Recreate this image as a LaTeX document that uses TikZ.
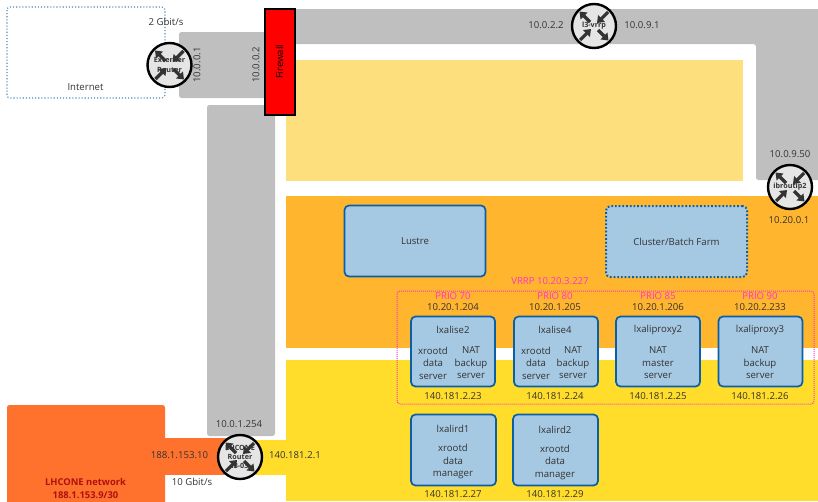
\documentclass[tikz,border=0pt]{standalone}
\usepackage{fontspec}
\setmainfont{Open Sans}
\usetikzlibrary{arrows.meta}
\definecolor{ink}{HTML}{333333}
\definecolor{greyz}{HTML}{BFBFBF}
\definecolor{ltyel}{HTML}{FDDF7E}
\definecolor{orz}{HTML}{FFB52E}
\definecolor{yelz}{HTML}{FFDD2A}
\definecolor{redor}{HTML}{FF722E}
\definecolor{srvfill}{HTML}{A5C8E3}
\definecolor{srvline}{HTML}{0B5FA5}
\definecolor{mag}{HTML}{FF33CC}
\definecolor{dred}{HTML}{B01010}
\tikzset{
 lbl/.style={font=\fontsize{9.6}{12.5}\selectfont,text=ink,inner sep=0pt,align=center},
 prio/.style={font=\fontsize{9.6}{12.5}\selectfont,text=mag,inner sep=0pt,align=center},
 area/.style={rounded corners=2.5pt},
 srv/.style={draw=srvline,line width=1.7pt,fill=srvfill,rounded corners=4.5pt},
 rtr/.style={circle,draw=black,line width=2.4pt,fill=black!10,minimum size=44pt,inner sep=0pt},
 rarrow/.style={draw=ink,line width=3.2pt,-{Triangle[length=6.5pt,width=9.5pt]}},
 rtxt/.style={font=\bfseries\fontsize{7.2}{8.6}\selectfont,text=ink,inner sep=0pt,align=center},
}
\newcommand{\rtrsym}[4]{%
 \node[rtr] (#1) at (#2,#3) {};
 \draw[rarrow] (#1.center) ++(-4,-4) -- ++(-10.5,-10.5);
 \draw[rarrow] (#1.center) ++(14,-14) -- ++(-11,11);
 \draw[rarrow] (#1.center) ++(-14,14) -- ++(11,-11);
 \draw[rarrow] (#1.center) ++(4,4) -- ++(10.5,10.5);
 \node[rtxt] (#1t) at (#1.center) {#4};
}
% name, left, top, width, height
\newcommand{\srvbox}[5]{%
 \path[srv] (#2,#3) rectangle ++(#4,#5);
 \coordinate (#1) at (#2+#4/2,#3);
}
\begin{document}
\begin{tikzpicture}[x=1pt,y=-1pt]
\useasboundingbox (0,0) rectangle (818,501);
% backgrounds
\fill[area,greyz] (179,32) rectangle (270,98);
\fill[greyz] (290,9) -- (818,9) -- (818,180) -- (760,180) [rounded corners=2.5pt] -- (756,180) -- (756,44) [sharp corners] -- (290,44) -- cycle;
\fill[area,greyz] (207,105) rectangle (275,436);
\fill[area,ltyel] (286,60) [sharp corners] rectangle (743,181);
\fill[orz] (286,196) rectangle (818,348);
\fill[yelz] (286,360) rectangle (818,501);
\fill[area,yelz] (250,440) rectangle (290,475);
\fill[area,redor] (7,405) rectangle (165,520);
\fill[redor] (160,438) rectangle (230,475);
\draw[srvline!75!white,line width=1.1pt,dotted,rounded corners=3pt] (7,7) rectangle (165,98);
% firewall
\node[draw=black,line width=2pt,fill=red,minimum width=30pt,minimum height=106pt,inner sep=0pt] (fw) at (279.5,62) {\rotatebox{90}{\fontsize{9.6}{10}\selectfont Firewall}};
% routers
\rtrsym{ext}{169.5}{65}{Externer\\[1.5pt]Router}
\rtrsym{l3}{594}{26}{l3-vrrp}
\rtrsym{ib}{790}{187}{ibroutip2}
\rtrsym{lhc}{240}{457}{LHCONE\\Router\\l3-03}
% storage
\node[srv,minimum width=141pt,minimum height=71pt,inner sep=0pt,font=\fontsize{9.6}{10}\selectfont,text=ink] (lustre) at (415,241) {Lustre};
\node[srv,dotted,line width=2pt,minimum width=141pt,minimum height=71pt,inner sep=0pt,font=\fontsize{9.6}{10}\selectfont,text=ink] (farm) at (676.5,241.5) {Cluster/Batch Farm};
% vrrp
\draw[mag,line width=1pt,densely dotted,rounded corners=3pt] (397,291) rectangle (814,404);
\node[prio] (vrrp) at (550,281) {VRRP 10.20.3.227};
% servers
\srvbox{s1}{411}{316.5}{84}{70}
\srvbox{s2}{514}{316.5}{84}{70}
\srvbox{s3}{616}{316.5}{84}{70}
\srvbox{s4}{718.5}{316.5}{84}{70}
\srvbox{s5}{411}{414.5}{85}{71}
\srvbox{s6}{513}{414.5}{85}{71}
% server labels
\node[prio] (p1) at (453,296.5) {PRIO 70};
\node[prio] (p2) at (555,296.5) {PRIO 80};
\node[prio] (p3) at (658,296.5) {PRIO 85};
\node[prio] (p4) at (760,296.5) {PRIO 90};
\node[lbl] (a1) at (453,307.5) {10.20.1.204};
\node[lbl] (a2) at (555,307.5) {10.20.1.205};
\node[lbl] (a3) at (658,307.5) {10.20.1.206};
\node[lbl] (a4) at (760,307.5) {10.20.2.233};
\node[lbl] (n1) at (453,329.5) {lxalise2};
\node[lbl] (n2) at (555,329.5) {lxalise4};
\node[lbl] (n3) at (658,329.5) {lxaliproxy2};
\node[lbl] (n4) at (760,329.5) {lxaliproxy3};
\node[lbl,anchor=north] (d1a) at (433,346.5) {xrootd\\data\\server};
\node[lbl,anchor=north] (d1b) at (471,346.5) {NAT\\backup\\server};
\node[lbl,anchor=north] (d2a) at (536,346.5) {xrootd\\data\\server};
\node[lbl,anchor=north] (d2b) at (573,346.5) {NAT\\backup\\server};
\node[lbl,anchor=north] (d3) at (658,346.5) {NAT\\master\\server};
\node[lbl,anchor=north] (d4) at (760,346.5) {NAT\\backup\\server};
\node[lbl] (b1) at (453,396.5) {140.181.2.23};
\node[lbl] (b2) at (555,396.5) {140.181.2.24};
\node[lbl] (b3) at (658,396.5) {140.181.2.25};
\node[lbl] (b4) at (760,396.5) {140.181.2.26};
\node[lbl] (n5) at (453,429) {lxalird1};
\node[lbl] (n6) at (555,430) {lxalird2};
\node[lbl,anchor=north] (d5) at (453,444) {xrootd\\data\\manager};
\node[lbl,anchor=north] (d6) at (555,444.5) {xrootd\\data\\manager};
\node[lbl] (b5) at (453,494.5) {140.181.2.27};
\node[lbl] (b6) at (555,494.5) {140.181.2.29};
% network labels
\node[lbl] (rate1) at (166,21.5) {2 Gbit/s};
\node[lbl] (inet) at (85.5,87.5) {Internet};
\node[lbl,rotate=90] (ip1) at (197,65) {10.0.0.1};
\node[lbl,rotate=90] (ip2) at (256,65) {10.0.0.2};
\node[lbl] (ip3) at (546,25.5) {10.0.2.2};
\node[lbl] (ip4) at (642,25.5) {10.0.9.1};
\node[lbl] (ip5) at (790,154.5) {10.0.9.50};
\node[lbl] (ip6) at (789,220.5) {10.20.0.1};
\node[lbl] (ip7) at (239,424.5) {10.0.1.254};
\node[lbl] (ip8) at (179.5,455.5) {188.1.153.10};
\node[lbl] (ip9) at (295,455.5) {140.181.2.1};
\node[lbl] (rate2) at (192,481.5) {10 Gbit/s};
\node[font=\bfseries\fontsize{9.4}{13}\selectfont,text=dred,inner sep=0pt,align=center] (net) at (85.5,488.5) {LHCONE network\\188.1.153.9/30};
\end{tikzpicture}
\end{document}
